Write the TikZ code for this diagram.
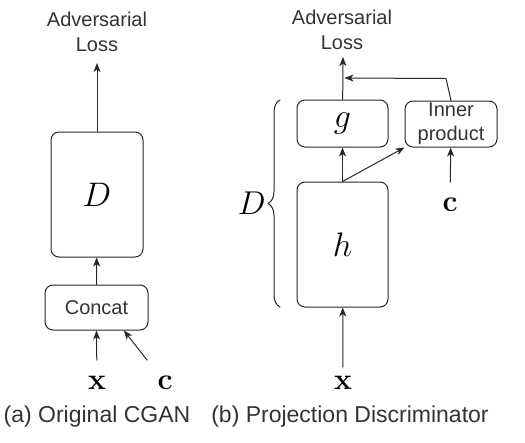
\RequirePackage{fix-cm}
\documentclass[tikz,border=0pt]{standalone}
\usepackage[no-math]{fontspec}
\setmainfont{Liberation Sans}
\usetikzlibrary{decorations.pathreplacing,arrows.meta}
\begin{document}
\begin{tikzpicture}[line cap=round,line join=round,>={Stealth[length=9pt,width=7pt,inset=2.5pt]},x=1pt,y=-1pt,
  blk/.style={draw=black!85,line width=1pt,rounded corners=8pt,inner sep=1pt,font=\fontsize{34}{40}\selectfont},
  lbl/.style={text=black!80,align=center,font=\fontsize{20}{25}\selectfont},
  inp/.style={inner sep=16pt,font=\fontsize{30}{36}\selectfont},
  subcap/.style={text=black!80,font=\fontsize{23}{28}\selectfont},
  arr/.style={->,draw=black!85,line width=1pt}]
\useasboundingbox (0,0) rectangle (525,442);
% (a) original CGAN
\node[blk,minimum width=92pt,minimum height=125pt] (dA) at (97,194.5) {$D$};
\node[blk,minimum width=103pt,minimum height=45pt,font=\fontsize{20}{24}\selectfont,text=black!80] (concat) at (96.5,307.5) {Concat};
\node[lbl] (lossA) at (97,32) {Adversarial\\Loss};
\coordinate (topA) at (97,63);
\node[inp] (xA) at (97,383) {$\mathbf{x}$};
\node[inp] (cA) at (165,383) {$\mathbf{c}$};
\draw[arr] (xA) -- (concat.south);
\draw[arr] (cA) -- (concat.-40);
\draw[arr] (concat) -- (dA);
\draw[arr] (dA) -- (topA);
\node[subcap] (capA) at (97,417) {(a) Original CGAN};
% (b) projection discriminator
\node[blk,minimum width=91pt,minimum height=125pt] (h) at (342.5,244.5) {$h$};
\node[blk,minimum width=91pt,minimum height=47pt] (g) at (342.5,123.5) {$g$};
\node[blk,lbl,minimum width=92pt,minimum height=46pt,font=\fontsize{20}{24}\selectfont] (inner) at (451,124) {Inner\\product};
\node[lbl] (lossB) at (342,30) {Adversarial\\Loss};
\coordinate (topB) at (343,57);
\coordinate (join) at (343,78);
\node[inp] (xB) at (343,383) {$\mathbf{x}$};
\node[inp] (cB) at (450,205) {$\mathbf{c}$};
\draw[arr,shorten <=-7pt] (xB) -- (h);
\draw[arr] (cB) -- (inner);
\draw[arr] (h) -- (g);
\draw[arr] (h.north) -- (inner.south west);
\draw[arr] (g) -- (topB);
\draw[arr,shorten >=1.5pt] (inner.north) -- ++(-5,-22) -- (join);
\draw[draw=black!85,line width=1pt,decorate,decoration={brace,amplitude=12pt}]
  (280,307) -- (280,100) node[midway,left=14pt,inner sep=0pt,font=\fontsize{33}{38}\selectfont] (dB) {$D$};
\node[subcap] (capB) at (350,417) {(b) Projection Discriminator};
\end{tikzpicture}
\end{document}
